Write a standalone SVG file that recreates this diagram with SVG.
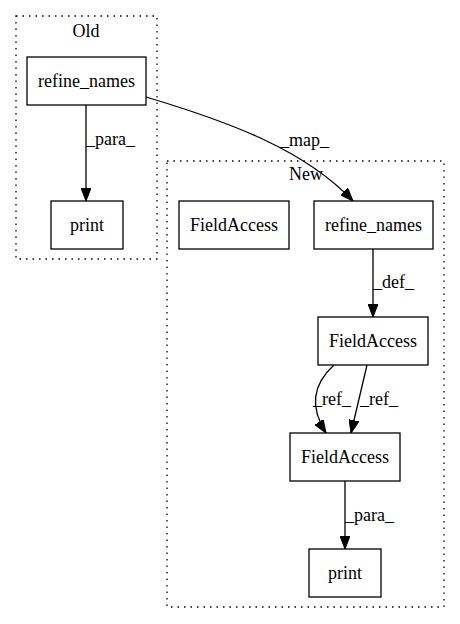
<svg xmlns="http://www.w3.org/2000/svg" width="460" height="624" viewBox="0 0 460 624">
<style>
text{font-family:"Liberation Serif","Times New Roman",serif;font-size:18px;fill:#000}
.c{fill:none;stroke:#000;stroke-dasharray:1.5,5;stroke-width:1.3}
.n{fill:#fff;stroke:#000;stroke-width:1.3}
.e{fill:none;stroke:#000;stroke-width:1.3}
.m{text-anchor:middle}
</style>
<defs>
<marker id="ah" markerWidth="13" markerHeight="10" refX="13" refY="5" orient="auto" markerUnits="userSpaceOnUse">
<path d="M0,0 L13,5 L0,10 Z" fill="#000" stroke="#000"/>
</marker>
</defs>
<rect width="460" height="624" fill="#fff"/>
<g id="cluster-old">
<rect class="c" x="16" y="16" width="141" height="243"/>
<text class="m" x="86" y="37">Old</text>
</g>
<g id="cluster-new">
<rect class="c" x="167" y="161" width="277" height="446"/>
<text class="m" x="306" y="180">New</text>
</g>
<g id="edges">
<path class="e" d="M86,105 L86,201" marker-end="url(#ah)"/>
<text x="86" y="145">_para_</text>
<path class="e" d="M146,97 C230,122 305,150 353,201" marker-end="url(#ah)"/>
<text x="280" y="146">_map_</text>
<path class="e" d="M373,249 L373,317" marker-end="url(#ah)"/>
<text x="373" y="288">_def_</text>
<path class="e" d="M334,365 C312,385 310,408 326,433" marker-end="url(#ah)"/>
<text x="313" y="405">_ref_</text>
<path class="e" d="M367,365 L351,433" marker-end="url(#ah)"/>
<text x="360" y="405">_ref_</text>
<path class="e" d="M345,481 L345,549" marker-end="url(#ah)"/>
<text x="345" y="521">_para_</text>
</g>
<g id="old-refine_names">
<rect class="n" x="27" y="57" width="119" height="48"/>
<text class="m" x="86.5" y="87">refine_names</text>
</g>
<g id="old-print">
<rect class="n" x="51" y="201" width="72" height="48"/>
<text class="m" x="87" y="231">print</text>
</g>
<g id="new-FieldAccess-lone">
<rect class="n" x="179" y="201" width="110" height="48"/>
<text class="m" x="234" y="231">FieldAccess</text>
</g>
<g id="new-refine_names">
<rect class="n" x="314" y="201" width="119" height="48"/>
<text class="m" x="373.5" y="231">refine_names</text>
</g>
<g id="new-FieldAccess-1">
<rect class="n" x="318" y="317" width="110" height="48"/>
<text class="m" x="373" y="347">FieldAccess</text>
</g>
<g id="new-FieldAccess-2">
<rect class="n" x="290" y="433" width="110" height="48"/>
<text class="m" x="345" y="463">FieldAccess</text>
</g>
<g id="new-print">
<rect class="n" x="309" y="549" width="72" height="48"/>
<text class="m" x="345" y="579">print</text>
</g>
</svg>
